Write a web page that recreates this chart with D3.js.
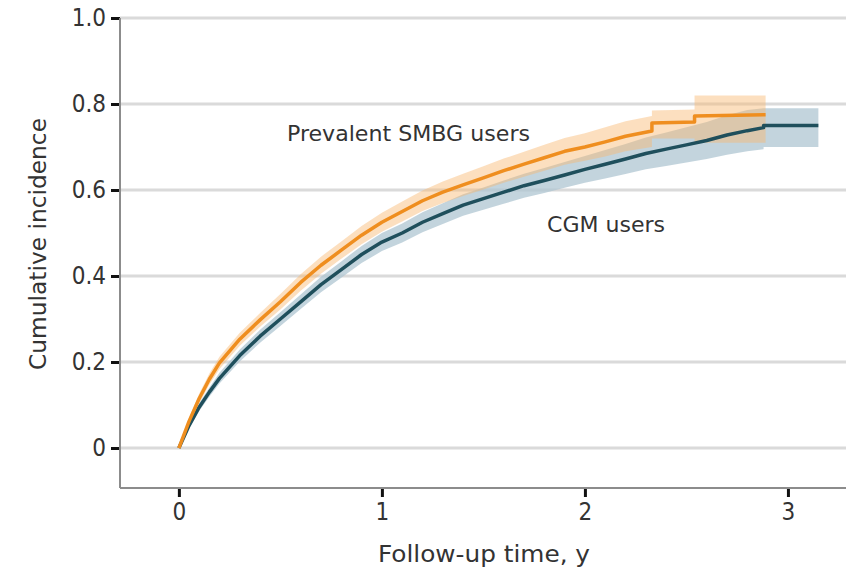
<!DOCTYPE html>
<html>
<head>
<meta charset="utf-8">
<script src="https://cdn.jsdelivr.net/npm/d3@7"></script>
<style>
  body { margin: 0; background: #fff; }
  svg { display: block; }
  text { font-family: "DejaVu Sans Condensed", "Liberation Sans", sans-serif; fill: #333; }
</style>
</head>
<body>
<svg id="chart" width="846" height="577"></svg>
<script>
// follow-up time (years) and cumulative incidence
var smbgTime  = [0, 0.05, 0.1, 0.15, 0.2, 0.3, 0.4, 0.5, 0.6, 0.7, 0.8, 0.9, 1.0, 1.1, 1.2, 1.3, 1.4, 1.5, 1.6, 1.7, 1.8, 1.9, 2.0, 2.1, 2.2, 2.33, 2.33, 2.54, 2.54, 2.89];
var smbgValue = [0, 0.062, 0.115, 0.16, 0.198, 0.253, 0.298, 0.34, 0.385, 0.425, 0.46, 0.495, 0.525, 0.55, 0.575, 0.595, 0.612, 0.628, 0.645, 0.66, 0.675, 0.69, 0.70, 0.712, 0.725, 0.737, 0.756, 0.758, 0.772, 0.775];
var smbgLower = [0, 0.054, 0.104, 0.147, 0.184, 0.238, 0.282, 0.322, 0.366, 0.405, 0.44, 0.474, 0.503, 0.527, 0.551, 0.57, 0.586, 0.601, 0.617, 0.631, 0.645, 0.659, 0.668, 0.678, 0.69, 0.70, 0.72, 0.72, 0.71, 0.71];
var smbgUpper = [0, 0.07, 0.126, 0.173, 0.212, 0.268, 0.314, 0.358, 0.404, 0.445, 0.48, 0.516, 0.547, 0.573, 0.599, 0.62, 0.638, 0.655, 0.673, 0.689, 0.705, 0.721, 0.732, 0.746, 0.76, 0.772, 0.785, 0.787, 0.82, 0.82];

var cgmTime  = [0, 0.05, 0.1, 0.15, 0.2, 0.3, 0.4, 0.5, 0.6, 0.7, 0.8, 0.9, 1.0, 1.1, 1.2, 1.3, 1.4, 1.5, 1.6, 1.7, 1.8, 1.9, 2.0, 2.1, 2.2, 2.3, 2.4, 2.5, 2.6, 2.7, 2.8, 2.88, 2.88, 3.15];
var cgmValue = [0, 0.052, 0.095, 0.13, 0.162, 0.215, 0.26, 0.30, 0.34, 0.38, 0.415, 0.45, 0.479, 0.50, 0.525, 0.545, 0.565, 0.58, 0.595, 0.61, 0.622, 0.635, 0.648, 0.66, 0.672, 0.685, 0.695, 0.705, 0.715, 0.728, 0.738, 0.745, 0.75, 0.75];
var cgmLower = [0, 0.045, 0.086, 0.119, 0.15, 0.201, 0.245, 0.284, 0.323, 0.362, 0.396, 0.43, 0.458, 0.478, 0.502, 0.521, 0.54, 0.554, 0.568, 0.582, 0.593, 0.605, 0.617, 0.627, 0.637, 0.648, 0.656, 0.664, 0.672, 0.682, 0.69, 0.695, 0.70, 0.70];
var cgmUpper = [0, 0.059, 0.104, 0.141, 0.175, 0.229, 0.275, 0.316, 0.357, 0.398, 0.434, 0.47, 0.50, 0.522, 0.548, 0.569, 0.59, 0.606, 0.622, 0.638, 0.651, 0.665, 0.679, 0.693, 0.707, 0.722, 0.734, 0.746, 0.758, 0.774, 0.786, 0.79, 0.79, 0.79];

var yTicks = [0, 0.2, 0.4, 0.6, 0.8, 1.0];
var xTicks = [0, 1, 2, 3];

var svg = d3.select('#chart');
var x = d3.scaleLinear().domain([-0.29, 3.286]).range([120, 846]);
var y = d3.scaleLinear().domain([-0.093, 1.0]).range([488, 18]);

function rows(t, v, lo, hi) {
  return t.map(function(d, i) { return { t: d, v: v[i], lo: lo[i], hi: hi[i] }; });
}
var smbg = rows(smbgTime, smbgValue, smbgLower, smbgUpper);
var cgm = rows(cgmTime, cgmValue, cgmLower, cgmUpper);

// gridlines
svg.append('g').selectAll('line').data(yTicks).enter().append('line')
  .attr('x1', x.range()[0]).attr('x2', x.range()[1])
  .attr('y1', function(d) { return y(d); }).attr('y2', function(d) { return y(d); })
  .attr('stroke', '#dadada').attr('stroke-width', 3);

var band = d3.area()
  .x(function(d) { return x(d.t); })
  .y0(function(d) { return y(d.lo); })
  .y1(function(d) { return y(d.hi); });
var line = d3.line()
  .x(function(d) { return x(d.t); })
  .y(function(d) { return y(d.v); });

svg.append('path').datum(cgm).attr('d', band)
  .attr('fill', '#afc6d2').attr('opacity', 0.75);
svg.append('path').datum(smbg).attr('d', band)
  .attr('fill', '#f9b970').attr('opacity', 0.45);
svg.append('path').datum(cgm).attr('d', line)
  .attr('fill', 'none').attr('stroke', '#1f4f5c').attr('stroke-width', 3.5)
  .attr('stroke-linejoin', 'round');
svg.append('path').datum(smbg).attr('d', line)
  .attr('fill', 'none').attr('stroke', '#ef8e1f').attr('stroke-width', 3.5)
  .attr('stroke-linejoin', 'round');

// axes
var yAxis = d3.axisLeft(y).tickValues(yTicks).tickSize(9).tickPadding(5)
  .tickFormat(function(d) { return d === 0 ? '0' : d3.format('.1f')(d); });
var gy = svg.append('g').attr('transform', 'translate(120,0)').call(yAxis);
var xAxis = d3.axisBottom(x).tickValues(xTicks).tickSize(9).tickPadding(6)
  .tickFormat(d3.format('d'));
var gx = svg.append('g').attr('transform', 'translate(0,488)').call(xAxis);
[gy, gx].forEach(function(g) {
  g.select('.domain').remove();
  g.selectAll('.tick line').attr('stroke', '#111').attr('stroke-width', 3);
  g.selectAll('.tick text').attr('font-size', 24).attr('fill', '#333')
    .style('font-family', '"DejaVu Sans Condensed", sans-serif');
});

svg.append('line').attr('x1', 120).attr('x2', 120).attr('y1', y(1.0)).attr('y2', 488)
  .attr('stroke', '#8c8c8c').attr('stroke-width', 2);
svg.append('line').attr('x1', 120).attr('x2', 846).attr('y1', 488).attr('y2', 488)
  .attr('stroke', '#8c8c8c').attr('stroke-width', 2);

// labels
svg.append('text').attr('x', 287).attr('y', 141).attr('font-size', 22)
  .attr('textLength', 243).attr('lengthAdjust', 'spacingAndGlyphs')
  .text('Prevalent SMBG users');
svg.append('text').attr('x', 547).attr('y', 232).attr('font-size', 22)
  .attr('textLength', 118).attr('lengthAdjust', 'spacingAndGlyphs')
  .text('CGM users');
svg.append('text').attr('x', 378).attr('y', 562).attr('font-size', 23)
  .attr('textLength', 212).attr('lengthAdjust', 'spacingAndGlyphs')
  .text('Follow-up time, y');
svg.append('text').attr('transform', 'translate(46,370) rotate(-90)').attr('font-size', 23)
  .attr('textLength', 252).attr('lengthAdjust', 'spacingAndGlyphs')
  .text('Cumulative incidence');
</script>
</body>
</html>
